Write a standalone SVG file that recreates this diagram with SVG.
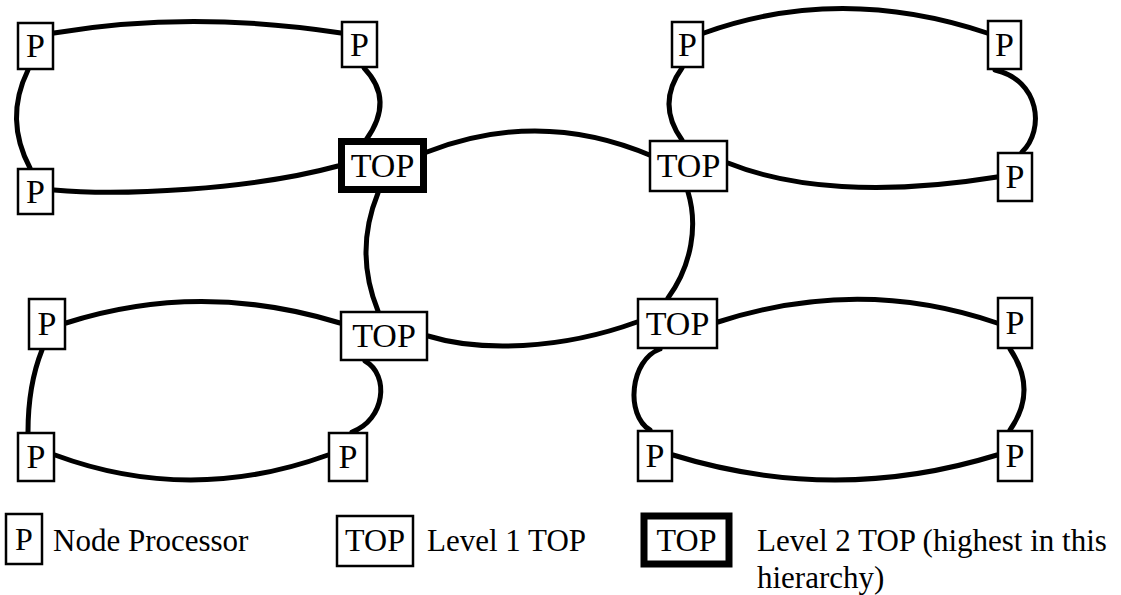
<svg xmlns="http://www.w3.org/2000/svg" width="1121" height="595" viewBox="0 0 1121 595">
<style>
.bg{fill:#fff}
.box{fill:#fff;stroke:#000;stroke-width:2.5}
.thick{fill:#fff;stroke:#000;stroke-width:7}
.lbl{font-family:"Liberation Serif","Times New Roman",serif;font-size:34px;fill:#000;text-anchor:middle}
.lbl2{font-family:"Liberation Serif","Times New Roman",serif;font-size:32px;fill:#000;text-anchor:middle}
.leg{font-family:"Liberation Serif","Times New Roman",serif;font-size:31px;fill:#000}
.link{fill:none;stroke:#000;stroke-width:5;stroke-linecap:round}
</style>
<rect class="bg" x="0" y="0" width="1121" height="595"/>
<g id="connectors">
  <path class="link" d="M54,33 Q190,10 341,33"/>
  <path class="link" d="M28,70 Q4,119 30,168"/>
  <path class="link" d="M364,68 Q395,100 366,140"/>
  <path class="link" d="M54,190 C120,196 250,190 338,166"/>
  <path class="link" d="M704,33 Q840,-16 987,33"/>
  <path class="link" d="M682,68 Q656,104 682,140"/>
  <path class="link" d="M995,70 C1040,80 1045,130 1022,152"/>
  <path class="link" d="M728,163 C790,188 880,196 997,177"/>
  <path class="link" d="M66,323 Q200,280 340,323"/>
  <path class="link" d="M42,350 Q28,385 28,432"/>
  <path class="link" d="M365,361 C390,375 385,420 352,432"/>
  <path class="link" d="M55,455 Q190,505 328,455"/>
  <path class="link" d="M718,322 Q860,276 997,323"/>
  <path class="link" d="M660,349 C630,360 625,415 650,430"/>
  <path class="link" d="M1010,349 Q1038,390 1010,430"/>
  <path class="link" d="M673,455 Q835,505 997,455"/>
  <path class="link" d="M427,152 Q540,108 652,156"/>
  <path class="link" d="M378,193 Q354,252 378,311"/>
  <path class="link" d="M688,192 C698,225 692,265 668,298"/>
  <path class="link" d="M428,336 C480,352 560,350 637,322"/>
</g>
<g id="p1"><rect class="box" x="18" y="23" width="35" height="46"/><text class="lbl" x="35.5" y="57">P</text></g>
<g id="p2"><rect class="box" x="342" y="22" width="35" height="45"/><text class="lbl" x="359.5" y="56">P</text></g>
<g id="p3"><rect class="box" x="18" y="169" width="35" height="45"/><text class="lbl" x="35.5" y="203">P</text></g>
<g id="top1"><rect class="thick" x="341.5" y="141.5" width="82" height="48"/><text class="lbl" x="382.5" y="177">TOP</text></g>
<g id="p4"><rect class="box" x="672" y="22" width="31" height="45"/><text class="lbl" x="687.5" y="56">P</text></g>
<g id="p5"><rect class="box" x="988" y="21" width="33" height="48"/><text class="lbl" x="1004.5" y="56">P</text></g>
<g id="p6"><rect class="box" x="998" y="153" width="34" height="48"/><text class="lbl" x="1015" y="188">P</text></g>
<g id="top2"><rect class="box" x="650" y="141" width="77" height="50"/><text class="lbl" x="688.5" y="177">TOP</text></g>
<g id="p7"><rect class="box" x="29" y="299" width="36" height="50"/><text class="lbl" x="47" y="335">P</text></g>
<g id="p8"><rect class="box" x="18" y="433" width="36" height="48"/><text class="lbl" x="36" y="468">P</text></g>
<g id="top3"><rect class="box" x="341" y="312" width="86" height="48"/><text class="lbl" x="384" y="347">TOP</text></g>
<g id="p9"><rect class="box" x="329" y="433" width="38" height="48"/><text class="lbl" x="348" y="468">P</text></g>
<g id="top4"><rect class="box" x="638" y="299" width="79" height="49"/><text class="lbl" x="677.5" y="335">TOP</text></g>
<g id="p10"><rect class="box" x="998" y="298" width="34" height="50"/><text class="lbl" x="1015" y="334">P</text></g>
<g id="p11"><rect class="box" x="638" y="431" width="34" height="50"/><text class="lbl" x="655" y="467">P</text></g>
<g id="p12"><rect class="box" x="998" y="431" width="34" height="50"/><text class="lbl" x="1015" y="467">P</text></g>
<g id="legend">
  <rect class="box" x="6" y="514" width="36" height="50"/><text class="lbl2" x="24" y="550">P</text>
  <text class="leg" x="53" y="551">Node Processor</text>
  <rect class="box" x="337" y="516" width="76" height="50"/><text class="lbl2" x="375" y="551">TOP</text>
  <text class="leg" x="427" y="551">Level 1 TOP</text>
  <rect class="thick" x="644" y="516" width="85" height="48"/><text class="lbl2" x="686.5" y="551">TOP</text>
  <text class="leg" x="757" y="551">Level 2 TOP (highest in this</text>
  <text class="leg" x="757" y="588">hierarchy)</text>
</g>
</svg>
